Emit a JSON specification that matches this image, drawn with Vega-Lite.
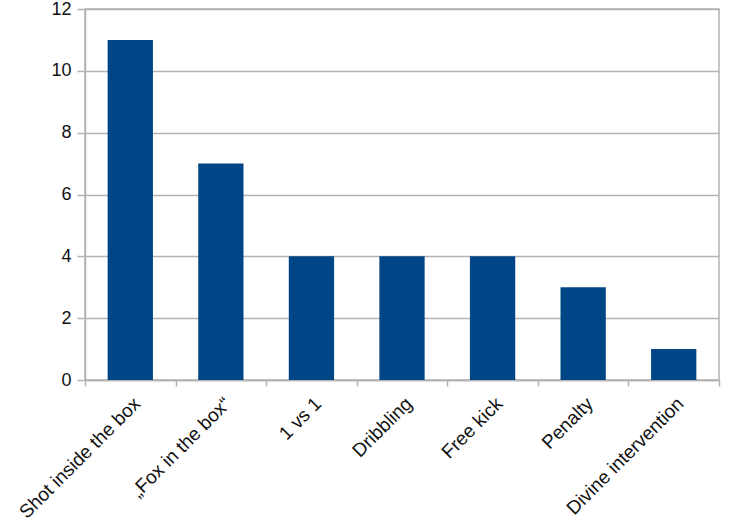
{
  "$schema": "https://vega.github.io/schema/vega-lite/v6.json",
  "autosize": {"type": "none"},
  "width": 634,
  "height": 371,
  "padding": {"left": 85, "top": 9, "right": 11, "bottom": 144},
  "background": "white",
  "config": {
    "view": {"stroke": "#b3b3b3", "strokeWidth": 1.5},
    "font": "Liberation Sans"
  },
  "data": {
    "values": [
      {"category": "Shot inside the box", "count": 11},
      {"category": "„Fox in the box“", "count": 7},
      {"category": "1 vs 1", "count": 4},
      {"category": "Dribbling", "count": 4},
      {"category": "Free kick", "count": 4},
      {"category": "Penalty", "count": 3},
      {"category": "Divine intervention", "count": 1}
    ]
  },
  "mark": {"type": "bar", "color": "#004586", "width": {"band": 0.5}},
  "encoding": {
    "x": {
      "field": "category",
      "type": "nominal",
      "sort": null,
      "scale": {"paddingInner": 0, "paddingOuter": 0},
      "axis": {
        "title": null,
        "labelAngle": -45,
        "labelAlign": "right",
        "labelBaseline": "top",
        "labelFontSize": 19,
        "labelColor": "#111111",
        "labelPadding": 8,
        "tickBand": "extent",
        "tickSize": 6,
        "tickColor": "#b3b3b3",
        "tickWidth": 1.5,
        "domainColor": "#b3b3b3",
        "domainWidth": 1.5,
        "grid": false,
        "labelLimit": 300
      }
    },
    "y": {
      "field": "count",
      "type": "quantitative",
      "scale": {"domain": [0, 12], "nice": false},
      "axis": {
        "title": null,
        "values": [0, 2, 4, 6, 8, 10, 12],
        "labelFontSize": 18,
        "labelColor": "#111111",
        "labelPadding": 6,
        "tickSize": 8,
        "tickColor": "#b3b3b3",
        "tickWidth": 1.5,
        "domainColor": "#b3b3b3",
        "domainWidth": 1.5,
        "gridColor": "#b3b3b3",
        "gridWidth": 1.5
      }
    }
  }
}
